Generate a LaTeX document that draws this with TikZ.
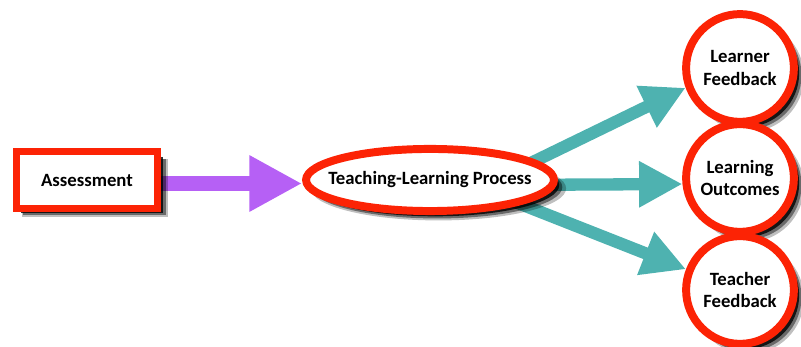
\documentclass[tikz,border=0pt]{standalone}
\usepackage{fontspec}
\setmainfont{Carlito}
\usetikzlibrary{arrows.meta,shapes.geometric,shadows}
\pgfdeclarelayer{bg}
\pgfsetlayers{bg,main}
\definecolor{boxred}{RGB}{252,35,5}
\definecolor{arrowpurple}{RGB}{182,96,245}
\definecolor{arrowteal}{RGB}{78,178,176}
\tikzset{
	label text/.style={font=\bfseries\fontsize{16}{19.5}\selectfont, align=center, fill=white, draw=boxred, inner sep=0pt},
	nodeshadow/.style={
		general shadow={shadow xshift=7pt, shadow yshift=-7pt, shadow scale=1.03, fill=black, opacity=.25},
		general shadow={shadow xshift=6pt, shadow yshift=-6pt, shadow scale=1.01, fill=black, opacity=.45},
		general shadow={shadow xshift=4.5pt, shadow yshift=-4.5pt, fill=black, opacity=.8}},
	fat arrow/.style={line width=12pt, -{Triangle[length=45pt, width=45pt]}},
	thin arrow/.style={line width=10.5pt, -{Triangle[length=37pt, width=37pt]}}
}
\begin{document}
\begin{tikzpicture}[x=0.03cm, y=0.03cm]
	\useasboundingbox (0,0) rectangle (801,347);
	\node[label text, rectangle, line width=6pt, minimum width=121pt, minimum height=48pt, nodeshadow] (asm) at (87,167) {Assessment};
	\node[label text, ellipse, line width=6.8pt, inner xsep=-12pt, minimum width=211pt, minimum height=53pt, nodeshadow] (tlp) at (430,167) {Teaching-Learning Process};
	\node[label text, circle, line width=6.8pt, minimum size=92pt, nodeshadow] (lf) at (740,279) {Learner\\Feedback};
	\node[label text, circle, line width=6.8pt, minimum size=92pt, nodeshadow] (lo) at (740,169) {Learning\\Outcomes};
	\node[label text, circle, line width=6.8pt, minimum size=92pt, nodeshadow] (tf) at (740,57) {Teacher\\Feedback};
	\begin{pgfonlayer}{bg}
	\draw[fat arrow, arrowpurple] ([yshift=-3]asm.east) -- ([yshift=-3]tlp.west);
	\draw[thin arrow, arrowteal] ([shift={(70,2)}]tlp.center) -- (lf.200);
	\draw[thin arrow, arrowteal] ([shift={(70,-5)}]tlp.center) -- (lo.186);
	\draw[thin arrow, arrowteal] ([shift={(70,-16)}]tlp.center) -- (tf.159);
	\end{pgfonlayer}
\end{tikzpicture}
\end{document}
